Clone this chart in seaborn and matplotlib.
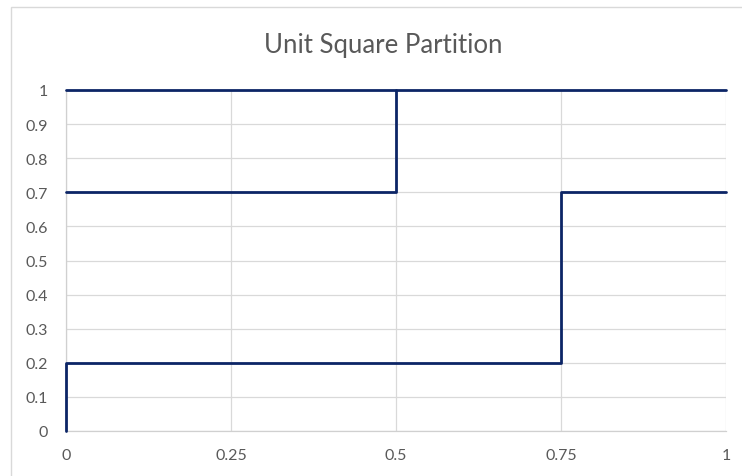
import matplotlib
matplotlib.use("Agg")
import matplotlib.pyplot as plt
import numpy as np
import pandas as pd
import seaborn as sns
from matplotlib.patches import Rectangle

# Ломаные линии разбиения единичного квадрата
path_a_x = [0, 0, 0.75, 0.75, 1]
path_a_y = [0, 0.2, 0.2, 0.7, 0.7]
path_b_x = [0, 0.5, 0.5, 1]
path_b_y = [0.7, 0.7, 1, 1]
path_c_x = [0, 0.5]
path_c_y = [1, 1]

x_ticks = [0, 0.25, 0.5, 0.75, 1]
x_labels = ["0", "0.25", "0.5", "0.75", "1"]
y_ticks = [0, 0.1, 0.2, 0.3, 0.4, 0.5, 0.6, 0.7, 0.8, 0.9, 1]
y_labels = ["0", "0.1", "0.2", "0.3", "0.4", "0.5", "0.6", "0.7", "0.8", "0.9", "1"]

rows = []
for name, xs, ys in [("a", path_a_x, path_a_y), ("b", path_b_x, path_b_y), ("c", path_c_x, path_c_y)]:
    for i, (x, y) in enumerate(zip(xs, ys)):
        rows.append({"path": name, "order": i, "x": x, "y": y})
df = pd.DataFrame(rows)

sns.set_style("white")
plt.rcParams["font.family"] = ["Lato", "DejaVu Sans"]

fig = plt.figure(figsize=(7.42, 4.77), dpi=100)
ax = fig.add_axes([66 / 742, 1 - 432 / 477, 660 / 742, 341 / 477])

line_color = "#0c2566"
sns.lineplot(
    data=df,
    x="x",
    y="y",
    units="path",
    estimator=None,
    sort=False,
    color=line_color,
    linewidth=2.0,
    ax=ax,
)
for ln in ax.get_lines():
    ln.set_clip_on(False)
    ln.set_zorder(5)

ax.set_xlim(0, 1)
ax.set_ylim(0, 1)
ax.set_xticks(x_ticks)
ax.set_xticklabels(x_labels)
ax.set_yticks(y_ticks)
ax.set_yticklabels(y_labels)
ax.grid(True, color="#d9d9d9", linewidth=0.9)
ax.set_axisbelow(True)
for s in ["top", "right"]:
    ax.spines[s].set_visible(False)
for s in ["left", "bottom"]:
    ax.spines[s].set_color("#d0d0d0")
    ax.spines[s].set_linewidth(0.9)
ax.tick_params(axis="both", length=0, labelsize=11.5, colors="#595959")
ax.tick_params(axis="x", pad=12.5)
ax.tick_params(axis="y", pad=13)
ax.set_xlabel("")
ax.set_ylabel("")

fig.text(0.517, 1 - 46 / 477, "Unit Square Partition", ha="center", va="center",
         fontsize=18.5, color="#595959")

# Рамка области диаграммы
fig.patches.append(Rectangle((11 / 742, -0.05), 2, 1 - 8 / 477 + 0.05,
                             transform=fig.transFigure, fill=False,
                             edgecolor="#d9d9d9", linewidth=1.0))

fig.savefig("out.png", dpi=100)
